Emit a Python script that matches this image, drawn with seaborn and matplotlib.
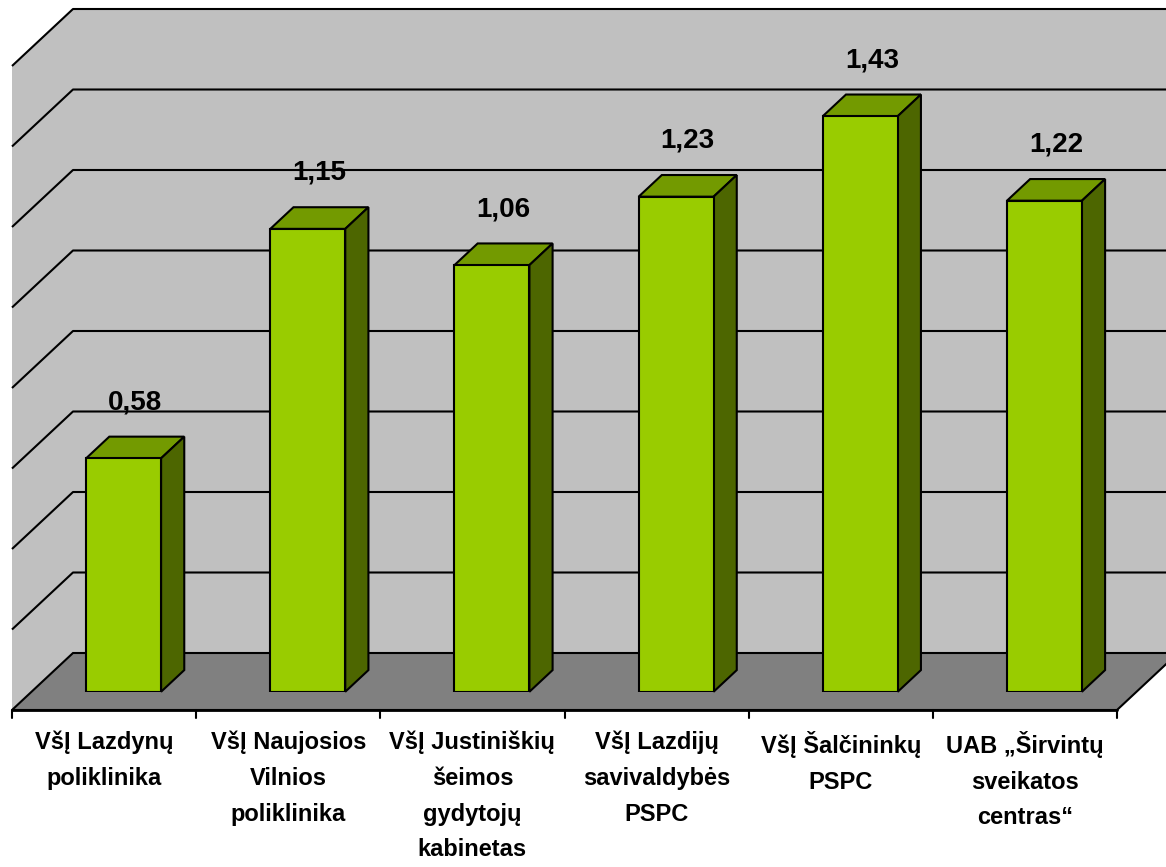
import numpy as np
import matplotlib
matplotlib.use('Agg')
import matplotlib.pyplot as plt
import seaborn as sns
from matplotlib.patches import Polygon
from matplotlib.transforms import offset_copy

# Chart data
categories = ['VšĮ Lazdynų\npoliklinika',
              'VšĮ Naujosios\nVilnios\npoliklinika',
              'VšĮ Justiniškių\nšeimos\ngydytojų\nkabinetas',
              'VšĮ Lazdijų\nsavivaldybės\nPSPC',
              'VšĮ Šalčininkų\nPSPC',
              'UAB „Širvintų\nsveikatos\ncentras“']
values = [0.58, 1.15, 1.06, 1.23, 1.43, 1.22]
y_max = 1.6
grid_step = 0.2

# Colours
front_col = '#99CC00'
top_col = '#739A00'
side_col = '#4D6600'
wall_col = '#C0C0C0'
floor_col = '#808080'

sns.set_style('white')
plt.rcParams['font.family'] = ['Liberation Sans', 'DejaVu Sans']
plt.rcParams['text.color'] = 'black'

W, H = 1166, 867
fig = plt.figure(figsize=(W / 100, H / 100), dpi=100)

# geometry of the fake 3d box (pixels)
x_front = 12          # left end of floor front edge
y_front = 710         # floor front edge, from top
depth_x, depth_y = 61, 57
plane = 0.32          # bar front faces sit this far into the depth
bar_depth = 0.38
cat_px = 1105
val_px = 644

ax = fig.add_axes([(x_front + plane * depth_x) / W,
                   (H - y_front + plane * depth_y) / H,
                   cat_px / W, val_px / H])

sns.barplot(x=categories, y=values, ax=ax, color=front_col, saturation=1,
            width=0.407, edgecolor='black', linewidth=1.5, zorder=5)
ax.set_xlim(-0.5, len(values) - 0.5)
ax.set_ylim(0, y_max)
ax.axis('off')

# pixel -> data unit conversion
ppx = cat_px / len(values)
ppy = val_px / y_max
fx, fy = -plane * depth_x / ppx, -plane * depth_y / ppy
bx, by = (1 - plane) * depth_x / ppx, (1 - plane) * depth_y / ppy
ddx, ddy = bar_depth * depth_x / ppx, bar_depth * depth_y / ppy
x0, x1 = -0.5, len(values) - 0.5

# back wall and side wall
ax.add_patch(Polygon([(x0 + bx, by), (x1 + bx, by), (x1 + bx, y_max + by), (x0 + bx, y_max + by)],
                     closed=True, facecolor=wall_col, edgecolor='none', zorder=0, clip_on=False))
ax.add_patch(Polygon([(x0 + fx, fy), (x0 + bx, by), (x0 + bx, y_max + by), (x0 + fx, y_max + fy)],
                     closed=True, facecolor=wall_col, edgecolor='none', zorder=0, clip_on=False))

# gridlines
for v in np.arange(grid_step, y_max + 1e-9, grid_step):
    ax.plot([x0 + fx, x0 + bx, x1 + bx], [v + fy, v + by, v + by],
            color='black', lw=1.5, zorder=1, clip_on=False, solid_capstyle='butt')

# floor
ax.add_patch(Polygon([(x0 + fx, fy), (x1 + fx, fy), (x1 + bx, by), (x0 + bx, by)],
                     closed=True, facecolor=floor_col, edgecolor='black', lw=1.5,
                     zorder=2, clip_on=False))

# category axis line and ticks
ax.plot([x0 + fx, x1 + fx], [fy, fy], color='black', lw=2, zorder=3, clip_on=False)
tick_len = 8 / ppy
for b in np.arange(x0, x1 + 1e-9, 1.0):
    ax.plot([b + fx, b + fx], [fy, fy - tick_len], color='black', lw=1.5, zorder=3, clip_on=False)

# 3d sides and tops of the bars
for p in ax.patches[:]:
    if not hasattr(p, 'get_width'):
        continue
    px0, w, h = p.get_x(), p.get_width(), p.get_height()
    ax.add_patch(Polygon([(px0, h), (px0 + w, h), (px0 + w + ddx, h + ddy), (px0 + ddx, h + ddy)],
                         closed=True, facecolor=top_col, edgecolor='black', lw=1.5,
                         zorder=4, clip_on=False))
    ax.add_patch(Polygon([(px0 + w, 0), (px0 + w + ddx, ddy), (px0 + w + ddx, h + ddy), (px0 + w, h)],
                         closed=True, facecolor=side_col, edgecolor='black', lw=1.5,
                         zorder=4, clip_on=False))

# value labels
lab_trans = offset_copy(ax.transData, fig=fig, x=0, y=56, units='dots')
for i, v in enumerate(values):
    ax.text(i + ddx / 2, v, f'{v:.2f}'.replace('.', ','), transform=lab_trans,
            ha='center', va='center', fontsize=20, fontweight='bold',
            color='black', zorder=6)

# category labels
cat_trans = offset_copy(ax.transData, fig=fig, x=0, y=-21, units='dots')
for i, c in enumerate(categories):
    ax.text(i + fx, fy, c, transform=cat_trans, ha='center', va='top',
            fontsize=17, fontweight='bold', linespacing=1.7,
            color='black', zorder=6)

fig.savefig('out.png', dpi=100)
